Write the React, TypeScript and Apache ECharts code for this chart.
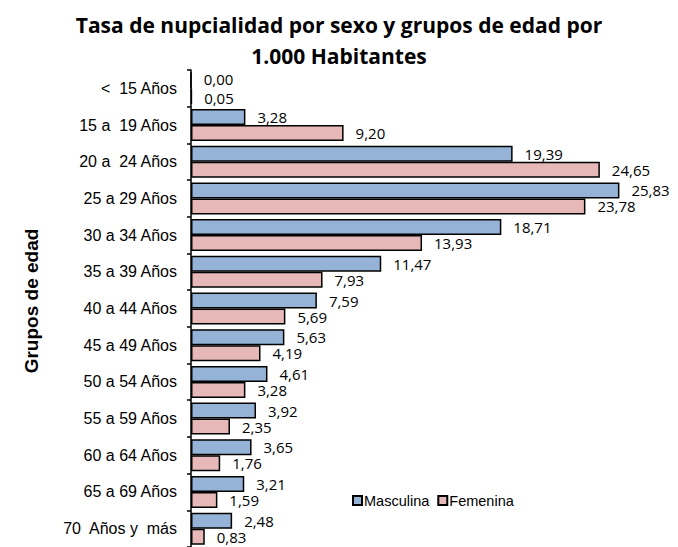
import React, { useEffect, useRef } from "react";
import * as echarts from "echarts";

const categories = [
  "<  15 Años",
  "15 a  19 Años",
  "20 a  24 Años",
  "25 a 29 Años",
  "30 a 34 Años",
  "35 a 39 Años",
  "40 a 44 Años",
  "45 a 49 Años",
  "50 a 54 Años",
  "55 a 59 Años",
  "60 a 64 Años",
  "65 a 69 Años",
  "70  Años y  más",
];
const masculina = [0.0, 3.28, 19.39, 25.83, 18.71, 11.47, 7.59, 5.63, 4.61, 3.92, 3.65, 3.21, 2.48];
const femenina = [0.05, 9.2, 24.65, 23.78, 13.93, 7.93, 5.69, 4.19, 3.28, 2.35, 1.76, 1.59, 0.83];

const fmt = (v: number) => v.toFixed(2).replace(".", ",");
const ARIAL = "Arial, 'Liberation Sans', sans-serif";

export default function App() {
  const ref = useRef<HTMLDivElement>(null);
  useEffect(() => {
    if (!ref.current) return;
    const chart = echarts.init(ref.current, undefined, { renderer: "svg" });
    const labelStyle = {
      show: true,
      position: "right" as const,
      distance: 12,
      color: "#000",
      fontFamily: "Open Sans",
      fontSize: 15,
      lineHeight: 14,
      formatter: (p: any) => fmt(p.value),
    };
    // nudge the two labels of the first (zero-width) group apart slightly
    const toItems = (arr: number[], dy: number) =>
      arr.map((v, i) => (i === 0 ? { value: v, label: { offset: [0, dy] } } : v));
    chart.setOption({
      animation: false,
      backgroundColor: "#fff",
      title: {
        text: "Tasa de nupcialidad por sexo y grupos de edad por\n1.000 Habitantes",
        left: "center",
        top: 4,
        textStyle: {
          fontFamily: "Open Sans",
          fontWeight: "bold",
          fontSize: 21,
          lineHeight: 31,
          color: "#000",
        },
      },
      legend: {
        left: 352,
        top: 493,
        padding: 0,
        icon: "rect",
        itemWidth: 9,
        itemHeight: 9,
        itemGap: 8,
        textStyle: {
          fontFamily: ARIAL,
          fontSize: 14.5,
          color: "#000",
          padding: [0, 0, 0, -3],
        },
        data: ["Masculina", "Femenina"],
      },
      graphic: [
        {
          type: "text",
          x: 31,
          y: 301,
          rotation: Math.PI / 2,
          style: {
            text: "Grupos de edad",
            fontFamily: ARIAL,
            fontWeight: "bold",
            fontSize: 19,
            fill: "#000",
            align: "center",
            verticalAlign: "middle",
          },
        },
      ],
      grid: { left: 191, top: 70, right: 6, bottom: 0, containLabel: false },
      xAxis: {
        type: "value",
        min: 0,
        max: 29,
        show: false,
        splitLine: { show: false },
      },
      yAxis: {
        type: "category",
        data: categories,
        inverse: true,
        axisLine: { show: true, lineStyle: { color: "#000", width: 1.5 } },
        axisTick: { show: true, length: 4, lineStyle: { color: "#000", width: 1.5 } },
        axisLabel: {
          margin: 14,
          fontFamily: ARIAL,
          fontSize: 16,
          color: "#000",
        },
      },
      series: [
        {
          name: "Masculina",
          type: "bar",
          data: toItems(masculina, -1.5),
          barWidth: 16,
          barGap: "0%",
          itemStyle: { color: "#95B3D7", borderColor: "#000", borderWidth: 1.5 },
          label: labelStyle,
        },
        {
          name: "Femenina",
          type: "bar",
          data: toItems(femenina, 1.5),
          barWidth: 16,
          barGap: "0%",
          itemStyle: { color: "#E6B9B8", borderColor: "#000", borderWidth: 1.5 },
          label: labelStyle,
        },
      ],
    });
    return () => chart.dispose();
  }, []);
  return (
    <div
      ref={ref}
      style={{ position: "fixed", left: 0, top: 0, width: 678, height: 547 }}
    />
  );
}
